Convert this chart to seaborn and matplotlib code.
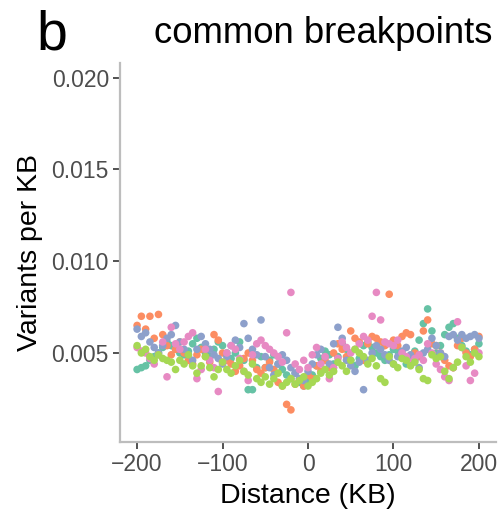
import matplotlib
matplotlib.use("Agg")
import matplotlib.pyplot as plt
import seaborn as sns
import pandas as pd
import numpy as np

distance = list(range(-200, 201, 5))

teal = [0.0041, 0.0042, 0.0043, 0.0046, 0.0048,
        0.0050, 0.0053, 0.0056, 0.0054, 0.0052,
        0.0050, 0.0049, 0.0051, 0.0055, 0.0058,
        0.0053, 0.0050, 0.0048, 0.0052, 0.0056,
        0.0054, 0.0050, 0.0047, 0.0050, 0.0056,
        0.0046, 0.0030, 0.0030, 0.0042, 0.0048,
        0.0042, 0.0046, 0.0049, 0.0044, 0.0041,
        0.0038, 0.0036, 0.0039, 0.0034, 0.0032,
        0.0035, 0.0038, 0.0043, 0.0047, 0.0051,
        0.0049, 0.0044, 0.0048, 0.0055, 0.0052,
        0.0046, 0.0043, 0.0047, 0.0054, 0.0056,
        0.0053, 0.0050, 0.0048, 0.0046, 0.0049,
        0.0052, 0.0051, 0.0048, 0.0044, 0.0047,
        0.0051, 0.0057, 0.0066, 0.0074, 0.0062,
        0.0050, 0.0054, 0.0060, 0.0064, 0.0066,
        0.0058, 0.0054, 0.0051, 0.0049, 0.0052,
        0.0055]

orange = [0.0065, 0.0070, 0.0063, 0.0070, 0.0058,
          0.0071, 0.0060, 0.0054, 0.0049, 0.0052,
          0.0056, 0.0050, 0.0046, 0.0044, 0.0049,
          0.0052, 0.0048, 0.0045, 0.0060, 0.0057,
          0.0050, 0.0046, 0.0044, 0.0040, 0.0043,
          0.0047, 0.0050, 0.0046, 0.0041, 0.0039,
          0.0042, 0.0045, 0.0041, 0.0034, 0.0032,
          0.0022, 0.0019, 0.0033, 0.0036, 0.0032,
          0.0038, 0.0036, 0.0043, 0.0040, 0.0046,
          0.0042, 0.0050, 0.0055, 0.0052, 0.0048,
          0.0062, 0.0058, 0.0056, 0.0046, 0.0055,
          0.0059, 0.0058, 0.0056, 0.0054, 0.0082,
          0.0057, 0.0054, 0.0059, 0.0061, 0.0060,
          0.0050, 0.0048, 0.0062, 0.0068, 0.0055,
          0.0054, 0.0050, 0.0046, 0.0043, 0.0042,
          0.0054, 0.0058, 0.0050, 0.0048, 0.0052,
          0.0059]

blue = [0.0063, 0.0059, 0.0061, 0.0056, 0.0053,
        0.0050, 0.0054, 0.0058, 0.0060, 0.0065,
        0.0056, 0.0052, 0.0049, 0.0046, 0.0052,
        0.0059, 0.0055, 0.0052, 0.0049, 0.0047,
        0.0044, 0.0048, 0.0054, 0.0057, 0.0053,
        0.0066, 0.0058, 0.0052, 0.0049, 0.0068,
        0.0048, 0.0042, 0.0038, 0.0044, 0.0049,
        0.0046, 0.0042, 0.0039, 0.0036, 0.0035,
        0.0040, 0.0044, 0.0049, 0.0052, 0.0048,
        0.0044, 0.0055, 0.0064, 0.0058, 0.0046,
        0.0043, 0.0040, 0.0045, 0.0030, 0.0046,
        0.0050, 0.0054, 0.0052, 0.0049, 0.0046,
        0.0044, 0.0048, 0.0051, 0.0053, 0.0049,
        0.0046, 0.0042, 0.0050, 0.0052, 0.0058,
        0.0054, 0.0050, 0.0048, 0.0059, 0.0060,
        0.0057, 0.0060, 0.0058, 0.0059, 0.0060,
        0.0058]

pink = [0.0053, 0.0051, 0.0050, 0.0047, 0.0044,
        0.0049, 0.0056, 0.0037, 0.0064, 0.0055,
        0.0052, 0.0056, 0.0059, 0.0061, 0.0036,
        0.0041, 0.0052, 0.0046, 0.0042, 0.0029,
        0.0045, 0.0050, 0.0054, 0.0052, 0.0047,
        0.0040, 0.0035, 0.0049, 0.0055, 0.0057,
        0.0054, 0.0052, 0.0050, 0.0048, 0.0045,
        0.0061, 0.0083, 0.0044, 0.0041, 0.0046,
        0.0042, 0.0049, 0.0053, 0.0044, 0.0048,
        0.0036, 0.0042, 0.0047, 0.0056, 0.0053,
        0.0050, 0.0052, 0.0055, 0.0059, 0.0057,
        0.0070, 0.0083, 0.0068, 0.0056, 0.0055,
        0.0054, 0.0057, 0.0050, 0.0048, 0.0045,
        0.0047, 0.0049, 0.0046, 0.0055, 0.0050,
        0.0044, 0.0041, 0.0037, 0.0035, 0.0042,
        0.0067, 0.0053, 0.0043, 0.0035, 0.0039,
        0.0050]

green = [0.0054, 0.0050, 0.0052, 0.0048, 0.0046,
         0.0049, 0.0047, 0.0046, 0.0045, 0.0041,
         0.0046, 0.0044, 0.0049, 0.0043, 0.0039,
         0.0043, 0.0048, 0.0042, 0.0037, 0.0041,
         0.0045, 0.0041, 0.0039, 0.0043, 0.0046,
         0.0040, 0.0038, 0.0044, 0.0036, 0.0034,
         0.0037, 0.0033, 0.0036, 0.0039, 0.0032,
         0.0034, 0.0036, 0.0033, 0.0035, 0.0037,
         0.0032, 0.0034, 0.0036, 0.0039, 0.0041,
         0.0038, 0.0040, 0.0045, 0.0043, 0.0040,
         0.0046, 0.0052, 0.0050, 0.0048, 0.0044,
         0.0047, 0.0043, 0.0036, 0.0034, 0.0048,
         0.0044, 0.0042, 0.0047, 0.0046, 0.0043,
         0.0045, 0.0041, 0.0036, 0.0035, 0.0049,
         0.0047, 0.0048, 0.0040, 0.0036, 0.0042,
         0.0045, 0.0053, 0.0048, 0.0045, 0.0050,
         0.0048]

series_names = ["s1", "s2", "s3", "s4", "s5"]
series_values = [teal, orange, blue, pink, green]
colors = ["#66c2a5", "#fc8d62", "#8da0cb", "#e78ac3", "#a6d854"]

x_ticks = [-200, -100, 0, 100, 200]
x_tick_labels = ["\u2212200", "\u2212100", "0", "100", "200"]
y_ticks = [0.005, 0.010, 0.015, 0.020]
y_tick_labels = ["0.005", "0.010", "0.015", "0.020"]

rows = []
for name, vals in zip(series_names, series_values):
    for d, v in zip(distance, vals):
        rows.append({"Distance": d, "Variants": v, "group": name})
df = pd.DataFrame(rows)

sns.set_style("white")
plt.rcParams["font.family"] = ["Liberation Sans", "DejaVu Sans"]

fig = plt.figure(figsize=(4.99, 5.19), dpi=100)
ax = fig.add_axes([0.2405, 0.1484, 0.7535, 0.7302])

sns.scatterplot(data=df, x="Distance", y="Variants", hue="group",
                palette=dict(zip(series_names, colors)), s=30,
                linewidth=0, edgecolor="none", alpha=1.0, legend=False, ax=ax)

ax.set_xlim(-220, 220)
ax.set_ylim(0.00015, 0.0208)
ax.set_xticks(x_ticks)
ax.set_xticklabels(x_tick_labels)
ax.set_yticks(y_ticks)
ax.set_yticklabels(y_tick_labels)

for side in ["top", "right"]:
    ax.spines[side].set_visible(False)
for side in ["left", "bottom"]:
    ax.spines[side].set_color("#bdbdbd")
    ax.spines[side].set_linewidth(1.6)

ax.tick_params(axis="both", direction="out", length=5, width=1.2,
               color="#333333", labelcolor="#4d4d4d", labelsize=16.5, pad=3,
               bottom=True, left=True)

ax.set_xlabel("Distance (KB)", fontsize=20.5, color="black", labelpad=5)
ax.set_ylabel("Variants per KB", fontsize=20.5, color="black", labelpad=6)

fig.text(0.986, 0.917, "common breakpoints", fontsize=26.3, ha="right",
         va="baseline", color="black")
fig.text(0.072, 0.905, "b", fontsize=40, ha="left", va="baseline",
         color="black")

fig.savefig("out.png", dpi=100)
